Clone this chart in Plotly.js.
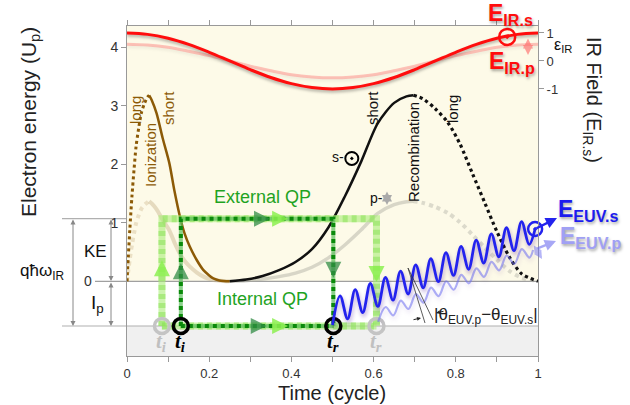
<!DOCTYPE html>
<html><head><meta charset="utf-8">
<script src="https://cdn.plot.ly/plotly-3.0.1.min.js"></script>
<style>body{margin:0;background:#fff}#chart{width:630px;height:405px}</style>
</head><body><div id="chart"></div>
<script>
// ---------- data ----------
const timeTicks = [0,0.1,0.2,0.3,0.4,0.5,0.6,0.7,0.8,0.9,1];
const timeTickText = ['0','','0.2','','0.4','','0.6','','0.8','','1'];
const energyTicks = [1,2,3,4];
const fieldTicks = [-1,0,1];
const fieldTickText = ['-1','0','1'];

// IR field (right axis, units of E_IR,s)
const irTime   = [0,0.05,0.1,0.15,0.2,0.25,0.3,0.35,0.4,0.45,0.5,0.55,0.6,0.65,0.7,0.75,0.8,0.85,0.9,0.95,1];
const irFieldS = [1.00,0.95,0.81,0.59,0.31,0.00,-0.31,-0.59,-0.81,-0.95,-1.00,-0.95,-0.81,-0.59,-0.31,0.00,0.31,0.59,0.81,0.95,1.00];
const irFieldP = [0.60,0.57,0.49,0.35,0.19,0.00,-0.19,-0.35,-0.49,-0.57,-0.60,-0.57,-0.49,-0.35,-0.19,0.00,0.19,0.35,0.49,0.57,0.60];
const irMarkT = [0.925];
const irMarkF = [0.86];

// Ionization (s): short (solid) and long (dotted)
const ionShortT = [0.054,0.060,0.072,0.087,0.103,0.115,0.129,0.140,0.153,0.170,0.186,0.200,0.210,0.225,0.250];
const ionShortE = [3.18,3.10,2.87,2.44,2.02,1.56,1.10,0.82,0.59,0.36,0.19,0.10,0.05,0.015,0];
const ionLongT  = [0,0.003,0.007,0.012,0.017,0.022,0.028,0.035,0.043,0.050,0.054];
const ionLongE  = [0,0.40,0.90,1.45,1.90,2.30,2.60,2.88,3.05,3.15,3.18];
// Recombination (s): short (solid) and long (dotted)
const recShortT = [0.25,0.29,0.33,0.37,0.41,0.45,0.49,0.53,0.57,0.61,0.65,0.68,0.697];
const recShortE = [0,0.03,0.09,0.19,0.33,0.55,0.92,1.45,2.05,2.70,3.05,3.16,3.18];
const recLongT  = [0.697,0.72,0.75,0.78,0.81,0.84,0.87,0.90,0.93,0.96,1.0];
const recLongE  = [3.18,3.12,2.95,2.72,2.35,1.85,1.35,0.85,0.42,0.13,0];
// p-polarisation (faded) counterparts
const ionShortPE = [1.37,1.33,1.23,1.05,0.87,0.67,0.47,0.35,0.25,0.15,0.08,0.04,0.02,0.01,0];
const ionLongPE  = [0,0.17,0.39,0.62,0.82,0.99,1.12,1.24,1.31,1.35,1.37];
const recShortPE = [0,0.01,0.04,0.08,0.14,0.24,0.40,0.62,0.88,1.16,1.31,1.36,1.37];
const recLongPE  = [1.37,1.34,1.27,1.17,1.01,0.80,0.58,0.37,0.18,0.06,0];

// Quantum paths
const qpLevel = 1.07, ipLevel = -0.764;
const extS_T = [0.131,0.131,0.502,0.502];
const extS_E = [ipLevel,qpLevel,qpLevel,ipLevel];
const intS_T = [0.131,0.502];
const intS_E = [ipLevel,ipLevel];
const extP_T = [0.085,0.085,0.607,0.607];
const extP_E = [ipLevel,qpLevel,qpLevel,ipLevel];
const intP_T = [0.085,0.607];
const intP_E = [ipLevel,ipLevel];
const arrowS_T = [0.131,0.348,0.502,0.340];
const arrowS_E = [0.31,1.07,0.06,-0.764];
const arrowP_T = [0.085,0.392,0.607,0.392];
const arrowP_E = [0.36,1.07,-0.01,-0.764];
const arrowDir = [0,90,180,90];
const endS_T = [0.131,0.502];
const endP_T = [0.085,0.607];
const endE = [-0.764,-0.764];
const endLabels = ['t<sub>i</sub>','t<sub>r</sub>'];

// EUV emission waves
const waveS_T = [0.5000,0.5184,0.5368,0.5552,0.5736,0.5920,0.6104,0.6288,0.6472,0.6656,0.6840,0.7024,0.7208,0.7392,0.7576,0.7760,0.7944,0.8128,0.8312,0.8496,0.8680,0.8864,0.9048,0.9232,0.9416,0.9600,0.9784,0.9930];
const waveS_E = [-0.747,-0.250,-0.641,-0.144,-0.535,-0.038,-0.429,0.068,-0.323,0.174,-0.217,0.280,-0.111,0.385,-0.006,0.491,0.100,0.597,0.206,0.703,0.312,0.809,0.418,0.915,0.524,1.021,0.630,0.894];
const waveP_T = [0.611,0.6294,0.6478,0.6662,0.6846,0.7030,0.7214,0.7398,0.7582,0.7766,0.7950,0.8134,0.8318,0.8502,0.8686,0.8870,0.9054,0.9238,0.9422,0.9606,0.9790,0.988];
const waveP_E = [-0.694,-0.439,-0.584,-0.329,-0.474,-0.219,-0.364,-0.109,-0.254,0.001,-0.144,0.111,-0.034,0.221,0.076,0.331,0.186,0.441,0.296,0.551,0.406,0.535];
const sMarkT = [0.547], sMarkE = [2.10];

// ---------- helpers ----------
const E_MIN = -1.277, E_MAX = 4.364;
const F_MIN = -10.537, F_MAX = 1.249;
const PX = p => (p - 127) / 411;     // page pixel -> paper x
const PY = p => (356 - p) / 330;     // page pixel -> paper y
const FONT = 'Liberation Sans, Arial, Helvetica, sans-serif';
const SERIF = 'Liberation Serif, DejaVu Serif, serif';
const BROWN = '#8c5a06', GREEN = '#1fa31f';

function line(x, y, color, width, dash, extra) {
  return Object.assign({type:'scatter', mode:'lines', x, y, hoverinfo:'skip', showlegend:false,
    line:{color, width, dash: dash || 'solid', shape:'spline', smoothing:0.8}}, extra || {});
}

const data = [
  // faded p curves
  line(ionLongT, ionLongPE, 'rgba(200,175,130,0.35)', 4, 'dot'),
  line(ionShortT, ionShortPE, 'rgba(200,180,140,0.45)', 4),
  line(recShortT, recShortPE, 'rgba(170,170,160,0.45)', 3.5),
  line(recLongT, recLongPE, 'rgba(170,170,160,0.4)', 4, 'dot'),
  // s curves
  line(ionLongT, ionLongE, BROWN, 3, 'dot'),
  line(ionShortT, ionShortE, BROWN, 2.5),
  line(recShortT, recShortE, '#111', 2.5),
  line(recLongT, recLongE, '#111', 3.2, 'dot'),
  // quantum paths (p, light green)
  line(extP_T, extP_E, '', 7, '', {line:{color:'rgba(170,236,120,0.6)', width:7, shape:'linear'}}),
  line(intP_T, intP_E, '', 7, '', {line:{color:'rgba(170,236,120,0.6)', width:7, shape:'linear'}}),
  line(extP_T, extP_E, '', 7, '', {line:{color:'rgba(140,225,90,0.55)', width:7, dash:'5px,4px', shape:'linear'}}),
  line(intP_T, intP_E, '', 7, '', {line:{color:'rgba(140,225,90,0.55)', width:7, dash:'5px,4px', shape:'linear'}}),
  // quantum paths (s, dark green dotted)
  line(extS_T, extS_E, '', 4, '', {line:{color:'rgba(90,190,90,0.7)', width:4, shape:'linear'}}),
  line(intS_T, intS_E, '', 4, '', {line:{color:'rgba(90,190,90,0.7)', width:4, shape:'linear'}}),
  line(extS_T, extS_E, '', 4, '', {line:{color:'#0b8a0b', width:4, dash:'4px,4px', shape:'linear'}}),
  line(intS_T, intS_E, '', 4, '', {line:{color:'#0b8a0b', width:4, dash:'4px,4px', shape:'linear'}}),
  // arrowheads
  {type:'scatter', mode:'markers', x:arrowS_T, y:arrowS_E, hoverinfo:'skip', showlegend:false,
   marker:{symbol:'arrow-up', size:16, angle:arrowDir, color:'rgba(50,140,70,0.75)', line:{width:0}}},
  {type:'scatter', mode:'markers', x:arrowP_T, y:arrowP_E, hoverinfo:'skip', showlegend:false,
   marker:{symbol:'arrow-up', size:16, angle:arrowDir, color:'rgba(140,240,80,0.85)', line:{width:0}}},
  // end-point circles
  {type:'scatter', mode:'markers', x:endP_T, y:endE, hoverinfo:'skip', showlegend:false,
   marker:{symbol:'circle-open', size:15, color:'#c4c4c4', line:{width:3.5, color:'#c4c4c4'}}},
  {type:'scatter', mode:'markers', x:endS_T, y:endE, hoverinfo:'skip', showlegend:false,
   marker:{symbol:'circle-open', size:15, color:'#000', line:{width:3.5, color:'#000'}}},
  // EUV waves
  line(waveP_T, waveP_E, '', 2, '', {uid:'waveP', line:{color:'rgba(110,110,240,0.55)', width:2.2, shape:'spline', smoothing:1}}),
  line(waveS_T, waveS_E, '', 2.5, '', {uid:'waveS', line:{color:'#2323ee', width:2.8, shape:'spline', smoothing:1}}),
  {type:'scatter', mode:'markers', x:[waveS_T[waveS_T.length-1]], y:[waveS_E[waveS_E.length-1]], hoverinfo:'skip', showlegend:false, cliponaxis:false,
   marker:{symbol:'circle-open-dot', size:14, color:'#2323ee', line:{width:2.5, color:'#2323ee'}}},
  // s- marker
  {type:'scatter', mode:'markers', x:sMarkT, y:sMarkE, hoverinfo:'skip', showlegend:false,
   marker:{symbol:'circle-open-dot', size:13, color:'#000', line:{width:2, color:'#000'}}},
  // IR fields on right axis
  line(irTime, irFieldP, '', 3, '', {yaxis:'y2', uid:'irP', line:{color:'rgba(255,110,110,0.4)', width:3, shape:'spline'}}),
  line(irTime, irFieldS, '', 3, '', {yaxis:'y2', uid:'irS', line:{color:'#ff0d0d', width:3, shape:'spline'}}),
  {type:'scatter', mode:'markers', x:irMarkT, y:irMarkF, yaxis:'y2', hoverinfo:'skip', showlegend:false,
   marker:{symbol:'circle-open-dot', size:16, color:'#ff0d0d', line:{width:2.5, color:'#ff0d0d'}}}
];

function txt(text, px, py, size, color, extra) {
  return Object.assign({text, xref:'paper', yref:'paper', x:PX(px), y:PY(py), showarrow:false,
    xanchor:'center', yanchor:'middle', font:{family:FONT, size, color}}, extra || {});
}
function tlab(text, t, color) {
  return {text, xref:'paper', yref:'paper', x:t, y:PY(342), showarrow:false, xanchor:'center', yanchor:'middle',
    font:{family:SERIF, size:21, color, weight:700, style:'italic'}};
}
function dbl(px, pyHead, pyTail, color, width) {
  return {xref:'paper', yref:'paper', x:PX(px), y:PY(pyHead), ax:0, ay:pyTail - pyHead, text:'',
    showarrow:true, arrowhead:2, arrowside:'end+start', arrowsize:1, arrowwidth:width || 1, arrowcolor:color, standoff:0, startstandoff:0};
}
function arr(pxH, pyH, pxT, pyT, color, width, side, head, size) {
  return {xref:'paper', yref:'paper', x:PX(pxH), y:PY(pyH), ax:pxT - pxH, ay:pyT - pyH, text:'',
    showarrow:true, arrowhead:head || 2, arrowside:side || 'end', arrowsize:size || 1, arrowwidth:width, arrowcolor:color, standoff:0, startstandoff:0};
}
const shadowTxt = '1px 2px 3px rgba(0,0,0,0.35)';

const annotations = [
  txt('Electron energy (U<sub>p</sub>)', 30, 122, 21, '#222', {textangle:-90}),
  txt('IR Field (E<sub>IR.s</sub>)', 593, 100, 20, '#222', {textangle:90}),
  txt('Time (cycle)', 332, 393, 20, '#222'),
  txt('0', 87.5, 281.3, 14, '#333'),
  txt('KE', 95, 251, 17, '#111'),
  txt('I<sub>p</sub>', 97, 304, 19, '#111'),
  txt('qħω<sub>IR</sub>', 42, 272, 17, '#111'),
  txt('ε<sub>IR</sub>', 563, 45, 16, '#111'),
  txt('Ionization', 150, 155, 15, BROWN, {textangle:-90}),
  txt('short', 168, 108, 15, BROWN, {textangle:-90}),
  txt('long', 136, 110, 15, BROWN, {textangle:-90}),
  txt('short', 372, 108, 15, '#111', {textangle:-90}),
  txt('Recombination', 413, 152, 15, '#111', {textangle:-90}),
  txt('long', 453, 109, 15, '#111', {textangle:-90}),
  txt('s-', 338, 157, 14, '#111'),
  txt('p-', 376, 198, 14, '#111'),
  txt('External QP', 262, 197, 18, GREEN),
  txt('Internal QP', 262, 299, 18, GREEN),
  tlab(endLabels[0], endP_T[0], '#c0c0c0'),
  tlab(endLabels[0], endS_T[0], '#000'),
  tlab(endLabels[1], endS_T[1], '#000'),
  tlab(endLabels[1], endP_T[1], '#c0c0c0'),
  txt('<b>E<sub>IR.s</sub></b>', 510, 15, 23, '#ff0d0d', {font:{family:FONT, size:23, color:'#ff0d0d', shadow:shadowTxt}}),
  txt('<b>E<sub>IR.p</sub></b>', 512, 63, 23, '#ff0d0d', {font:{family:FONT, size:23, color:'#ff0d0d', shadow:shadowTxt}}),
  txt('<b>E<sub>EUV.s</sub></b>', 588, 210, 23, '#1c1cee', {font:{family:FONT, size:23, color:'#1c1cee', shadow:shadowTxt}}),
  txt('<b>E<sub>EUV.p</sub></b>', 590, 238, 23, '#a0a0f4', {font:{family:FONT, size:23, color:'#a0a0f4', shadow:shadowTxt}}),
  txt('|θ<sub>EUV.p</sub>−θ<sub>EUV.s</sub>|', 486, 316, 17, '#222'),
  dbl(73, 326, 218, '#888', 1),
  dbl(111, 281, 218, '#888', 1),
  dbl(111, 326, 281, '#888', 1),
  dbl(387, 205, 190, '#aaa', 2),
  dbl(528, 55, 37, 'rgba(255,100,100,0.6)', 2),
  arr(557, 218, 535, 229, '#2323ee', 2.5, 'end', 2, 0.9),
  arr(556, 241, 536, 249, 'rgba(110,110,240,0.6)', 2.5, 'end', 2, 0.9),
  arr(542, 259, 533, 244, 'rgba(110,110,240,0.5)', 2, 'end+start', 2, 0.8),
  arr(421, 318, 412, 320, '#222', 1, 'end', 2, 0.8),
  arr(436, 313, 445, 311, '#222', 1, 'end', 2, 0.8)
];

const shapes = [
  {type:'rect', xref:'paper', yref:'y', x0:0, x1:1, y0:0, y1:E_MAX, fillcolor:'#fdfae8', line:{width:0}, layer:'below'},
  {type:'rect', xref:'paper', yref:'y', x0:0, x1:1, y0:E_MIN, y1:ipLevel, fillcolor:'#f0f0f0', line:{width:0}, layer:'below'},
  {type:'line', xref:'paper', yref:'y', x0:PX(95), x1:1, y0:0, y1:0, line:{color:'#a0a0a0', width:1.2}, layer:'below'},
  {type:'line', xref:'paper', yref:'y', x0:PX(62), x1:1, y0:ipLevel, y1:ipLevel, line:{color:'#b0b0b0', width:1.2}, layer:'below'},
  {type:'line', xref:'paper', yref:'y', x0:PX(62), x1:0, y0:qpLevel, y1:qpLevel, line:{color:'#b0b0b0', width:1.2}, layer:'below'},
  {type:'line', xref:'paper', yref:'paper', x0:PX(408), y0:PY(268), x1:PX(425), y1:PY(323), line:{color:'#333', width:0.8}},
  {type:'line', xref:'paper', yref:'paper', x0:PX(408), y0:PY(268), x1:PX(433), y1:PY(320), line:{color:'#333', width:0.8}}
];

const axisCommon = {showgrid:false, zeroline:false, ticks:'outside', ticklen:5, tickcolor:'#999',
  showline:true, linecolor:'#999', linewidth:1, tickfont:{family:FONT, size:13, color:'#333'}};

const layout = {
  width:630, height:405, margin:{l:127, r:92, t:26, b:49},
  paper_bgcolor:'#fff', plot_bgcolor:'#fff', showlegend:false,
  font:{family:FONT},
  xaxis:Object.assign({}, axisCommon, {range:[0,1], tickvals:timeTicks, ticktext:timeTickText, mirror:'ticks', ticklabelstandoff:0}),
  yaxis:Object.assign({}, axisCommon, {range:[E_MIN,E_MAX], tickvals:energyTicks, tickfont:{family:FONT, size:14, color:'#333'}}),
  yaxis2:Object.assign({}, axisCommon, {overlaying:'y', side:'right', range:[F_MIN,F_MAX], tickvals:fieldTicks, ticktext:fieldTickText}),
  annotations, shapes
};

Plotly.newPlot('chart', data, layout, {staticPlot:true}).then(gd => {
  const fx = {irS:'drop-shadow(0px 2px 1.5px rgba(0,0,0,0.3))', irP:'drop-shadow(0px 2px 1.5px rgba(0,0,0,0.15))',
              waveS:'drop-shadow(1px 3px 2px rgba(60,0,140,0.35))', waveP:'drop-shadow(1px 3px 2px rgba(60,0,140,0.2))'};
  Object.keys(fx).forEach(k => { const g = gd.querySelector('.trace' + k); if (g) g.style.filter = fx[k]; });
});
</script></body></html>
